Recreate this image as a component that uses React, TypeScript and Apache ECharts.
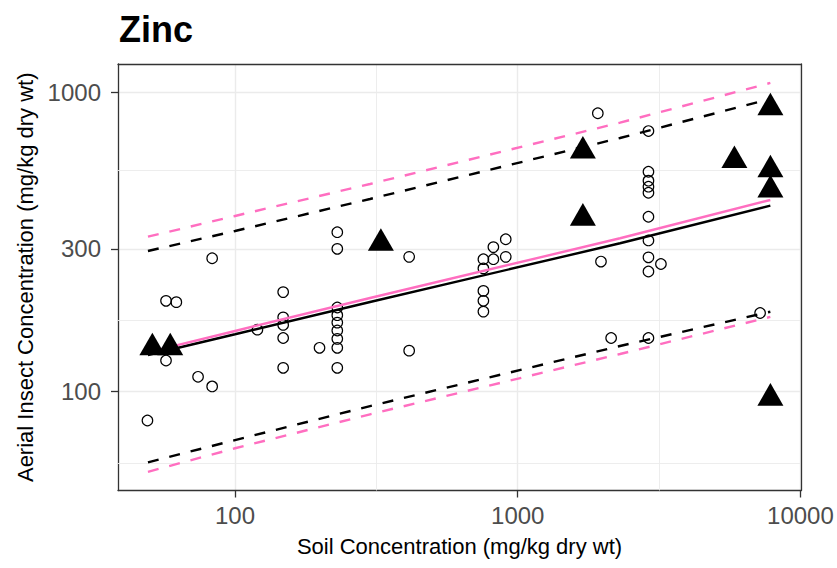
import React, { useEffect, useRef } from "react";
import * as echarts from "echarts";

// Axis ranges (data units, log-scaled axes)
const X_RANGE = [38.55, 10046];
const Y_RANGE = [46.67, 1245];
const X_TICKS = [100, 1000, 10000];
const X_MINOR = [316.2, 3162];
const Y_TICKS = [100, 300, 1000];
const Y_MINOR = [57.7, 173.2, 547.7];

// Open circles
const CIRCLE_X = [
  49, 57, 57, 62, 74, 83, 83, 120,
  148, 148, 148, 148, 148, 199,
  230, 230, 230, 230, 230, 230, 230, 230, 230,
  413, 413, 756, 756, 756, 756, 756, 820, 820, 907, 907,
  1920, 1970, 2140,
  2900, 2900, 2900, 2900, 2900, 2900, 2900, 2900, 2900, 2900,
  3210, 7200,
];
const CIRCLE_Y = [
  80, 201, 127, 199, 112, 104, 279, 161,
  215, 177, 167, 151, 120, 140,
  341, 300, 191, 180, 170, 160, 150, 140, 120,
  282, 137, 277, 258, 217, 201, 185, 304, 277, 323, 282,
  852, 272, 151,
  743, 543, 507, 484, 462, 384, 320, 281, 252, 151,
  267, 183,
];

// Filled triangles
const TRI_X = [51, 59, 328, 1700, 1700, 5840, 7830, 7830, 7830, 7830];
const TRI_Y = [140, 140, 313, 637, 380, 592, 889, 551, 472, 95];

// Fitted lines and prediction bands
const LINE_X = [49.2, 100, 300.3, 2301, 7826];
const FIT_BLACK = [132.5, 155.4, 199.2, 313.1, 418.2];
const FIT_PINK = [135.2, 159.4, 205.4, 325.4, 437.0];
const UPPER_BLACK = [295.1, 344.2, 440.4, 704.3, 951.2];
const UPPER_PINK = [329.4, 386.4, 494.3, 792.5, 1076];
const LOWER_BLACK = [57.96, 68.8, 89.4, 142.0, 184.8];
const LOWER_PINK = [53.9, 64.6, 83.9, 133.5, 177.6];

const FONT = '"Liberation Sans", Arial, sans-serif';
const PINK = "#FF6EC0";
const L = (v: number) => Math.log10(v);
const fmt = (v: number) => String(Math.round(Math.pow(10, v)));

function lineSeries(ys: number[], color: string, dashed: boolean) {
  return {
    type: "line",
    data: LINE_X.map((x, i) => [L(x), L(ys[i])]),
    showSymbol: false,
    symbol: "none",
    silent: true,
    z: 4,
    lineStyle: { color, width: 2.4, opacity: 1, type: dashed ? [11, 11] : "solid" },
  };
}

export default function App() {
  const ref = useRef<HTMLDivElement>(null);
  useEffect(() => {
    if (!ref.current) return;
    const chart = echarts.init(ref.current, undefined, { renderer: "svg" });
    const border = { show: true, onZero: false, lineStyle: { color: "#333333", width: 1.3 } };
    chart.setOption({
      animation: false,
      backgroundColor: "#ffffff",
      textStyle: { fontFamily: FONT },
      title: {
        text: "Zinc",
        left: 114,
        top: 6,
        textStyle: { fontSize: 36, fontWeight: "bold", color: "#000", fontFamily: FONT },
      },
      grid: {
        left: 118,
        top: 64,
        width: 683,
        height: 426.5,
        outerBoundsMode: "none",
        containLabel: false,
      },
      xAxis: [
        {
          type: "value",
          min: L(X_RANGE[0]),
          max: L(X_RANGE[1]),
          position: "bottom",
          name: "Soil Concentration (mg/kg dry wt)",
          nameLocation: "middle",
          nameGap: 45,
          nameTextStyle: { fontSize: 22, color: "#000", fontFamily: FONT },
          axisLine: border,
          axisTick: {
            show: true,
            length: 7,
            customValues: X_TICKS.map(L),
            lineStyle: { color: "#333333", width: 1.3 },
          },
          axisLabel: {
            customValues: X_TICKS.map(L),
            formatter: fmt,
            margin: 13,
            fontSize: 24,
            color: "#4D4D4D",
            fontFamily: FONT,
          },
          splitLine: { show: true, lineStyle: { color: "#EBEBEB", width: 1.4 } },
          z: 0,
        },
        {
          type: "value",
          min: L(X_RANGE[0]),
          max: L(X_RANGE[1]),
          position: "top",
          axisLine: border,
          axisTick: { show: false, customValues: X_MINOR.map(L) },
          axisLabel: { show: false, customValues: X_MINOR.map(L) },
          splitLine: { show: true, lineStyle: { color: "#EBEBEB", width: 0.9 } },
          z: 1,
        },
      ],
      yAxis: [
        {
          type: "value",
          min: L(Y_RANGE[0]),
          max: L(Y_RANGE[1]),
          position: "left",
          name: "Aerial Insect Concentration (mg/kg dry wt)",
          nameLocation: "middle",
          nameGap: 76,
          nameTextStyle: { fontSize: 22, color: "#000", fontFamily: FONT },
          axisLine: border,
          axisTick: {
            show: true,
            length: 7,
            customValues: Y_TICKS.map(L),
            lineStyle: { color: "#333333", width: 1.3 },
          },
          axisLabel: {
            customValues: Y_TICKS.map(L),
            formatter: fmt,
            margin: 17,
            fontSize: 24,
            color: "#4D4D4D",
            fontFamily: FONT,
          },
          splitLine: { show: true, lineStyle: { color: "#EBEBEB", width: 1.4 } },
          z: 0,
        },
        {
          type: "value",
          min: L(Y_RANGE[0]),
          max: L(Y_RANGE[1]),
          position: "right",
          axisLine: border,
          axisTick: { show: false, customValues: Y_MINOR.map(L) },
          axisLabel: { show: false, customValues: Y_MINOR.map(L) },
          splitLine: { show: true, lineStyle: { color: "#EBEBEB", width: 0.9 } },
          z: 1,
        },
      ],
      series: [
        {
          type: "scatter",
          data: CIRCLE_X.map((x, i) => [L(x), L(CIRCLE_Y[i])]),
          symbol: "circle",
          symbolSize: 10.5,
          silent: true,
          z: 3,
          itemStyle: { color: "rgba(0,0,0,0)", borderColor: "#000", borderWidth: 1.2, opacity: 1 },
        },
        lineSeries(UPPER_PINK, PINK, true),
        lineSeries(LOWER_PINK, PINK, true),
        lineSeries(UPPER_BLACK, "#000", true),
        lineSeries(LOWER_BLACK, "#000", true),
        lineSeries(FIT_BLACK, "#000", false),
        lineSeries(FIT_PINK, PINK, false),
        {
          type: "scatter",
          data: TRI_X.map((x, i) => [L(x), L(TRI_Y[i])]),
          symbol: "triangle",
          symbolSize: [26, 22.6],
          symbolOffset: [0, -3.8],
          silent: true,
          z: 5,
          itemStyle: { color: "#000", opacity: 1 },
        },
      ],
    });
    return () => chart.dispose();
  }, []);
  return (
    <div
      ref={ref}
      style={{ position: "fixed", left: 0, top: 0, width: 837, height: 568 }}
    />
  );
}
